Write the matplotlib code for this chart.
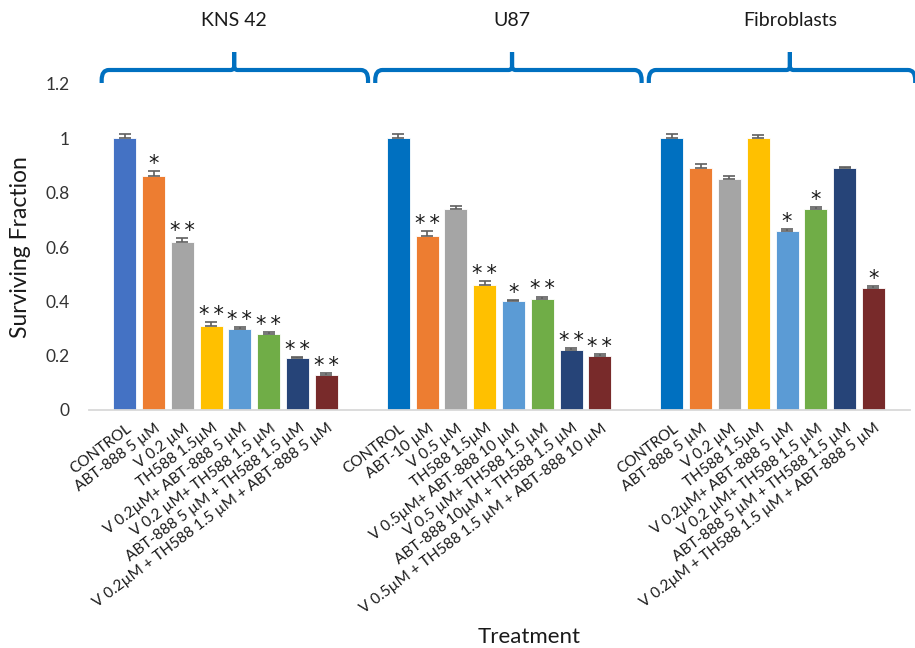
import matplotlib
matplotlib.use('Agg')
import matplotlib.pyplot as plt
from matplotlib.path import Path
from matplotlib.patches import PathPatch
from matplotlib.transforms import blended_transform_factory, ScaledTranslation
import numpy as np

plt.rcParams['font.family'] = ['Lato', 'DejaVu Sans']

# ---------------- data ----------------
groups = ['KNS 42', 'U87', 'Fibroblasts']

kns_labels = ['CONTROL', 'ABT-888 5 µM', 'V 0.2 µM', 'TH588 1.5µM',
              'V 0.2µM+ ABT-888 5 µM', 'V 0.2 µM+ TH588 1.5 µM',
              'ABT-888 5 µM + TH588 1.5 µM',
              'V 0.2µM + TH588 1.5 µM + ABT-888 5 µM']
u87_labels = ['CONTROL', 'ABT-10 µM', 'V 0.5 µM', 'TH588 1.5µM',
              'V 0.5µM+ ABT-888 10 µM', 'V 0.5 µM+ TH588 1.5 µM',
              'ABT-888 10µM + TH588 1.5 µM',
              'V 0.5µM + TH588 1.5 µM + ABT-888 10 µM']
fib_labels = ['CONTROL', 'ABT-888 5 µM', 'V 0.2 µM', 'TH588 1.5µM',
              'V 0.2µM+ ABT-888 5 µM', 'V 0.2 µM+ TH588 1.5 µM',
              'ABT-888 5 µM + TH588 1.5 µM',
              'V 0.2µM + TH588 1.5 µM + ABT-888 5 µM']

kns_values = [1.00, 0.86, 0.62, 0.31, 0.30, 0.28, 0.19, 0.13]
kns_errors = [0.017, 0.018, 0.012, 0.013, 0.004, 0.008, 0.006, 0.005]
kns_signif = ['', '*', '**', '**', '**', '**', '**', '**']

u87_values = [1.00, 0.64, 0.74, 0.46, 0.40, 0.41, 0.22, 0.20]
u87_errors = [0.017, 0.018, 0.011, 0.015, 0.004, 0.007, 0.007, 0.005]
u87_signif = ['', '**', '', '**', '*', '**', '**', '**']

fib_values = [1.00, 0.89, 0.85, 1.00, 0.66, 0.74, 0.89, 0.45]
fib_errors = [0.017, 0.017, 0.011, 0.014, 0.005, 0.007, 0.006, 0.007]
fib_signif = ['', '', '', '', '*', '*', '', '*']

yticks = [0, 0.2, 0.4, 0.6, 0.8, 1.0, 1.2]
ytick_labels = ['0', '0.2', '0.4', '0.6', '0.8', '1', '1.2']

# ---------------- styles ----------------
colors_kns = ['#4472C4', '#ED7D31', '#A5A5A5', '#FFC000', '#5B9BD5',
              '#70AD47', '#264478', '#782A2A']
colors_other = ['#0070C0'] + colors_kns[1:]
group_colors = [colors_kns, colors_other, colors_other]
brace_color = '#0070C0'

group_data = [
    (kns_labels, kns_values, kns_errors, kns_signif),
    (u87_labels, u87_values, u87_errors, u87_signif),
    (fib_labels, fib_values, fib_errors, fib_signif),
]

W, H = 915, 648
fig = plt.figure(figsize=(W / 100, H / 100), dpi=100)
ax = fig.add_axes([89 / W, 1 - 410 / H, 821 / W, 326 / H])

group_step = 9.5
all_x, all_labels = [], []
group_positions = []
for g, (labels, vals, errs, sig) in enumerate(group_data):
    x = np.arange(len(vals)) + g * group_step
    group_positions.append(x)
    ax.bar(x, vals, width=0.8, color=group_colors[g], edgecolor='white',
           linewidth=0.6, zorder=2)
    ax.errorbar(x, vals, yerr=[np.zeros(len(errs)), errs], fmt='none',
                ecolor='#5f5f5f', elinewidth=1.2, capsize=4.3,
                capthick=1.2, zorder=3)
    for xi, v, e, s in zip(x, vals, errs, sig):
        if s:
            ax.annotate('\u2009'.join(s), xy=(xi, v + e), xytext=(0, -2),
                        textcoords='offset points', ha='center',
                        va='bottom', fontsize=15, color='#1a1a1a',
                        family='DejaVu Sans')
    all_x.extend(x)
    all_labels.extend(labels)

ax.set_xlim(-1.24, 27.27)
ax.set_ylim(0, 1.2)
ax.set_yticks(yticks)
ax.set_yticklabels(ytick_labels, fontsize=12.5, color='#333333')
ax.set_xticks(all_x)
ax.set_xticklabels(all_labels, rotation=37, ha='right', va='center',
                   rotation_mode='anchor', fontsize=11, color='#1a1a1a')
ax.tick_params(axis='x', length=0, pad=12)
ax.tick_params(axis='y', length=0, pad=14)
offset = ScaledTranslation(5 / 100, 0, fig.dpi_scale_trans)
for lab in ax.get_xticklabels():
    lab.set_transform(lab.get_transform() + offset)

for side in ['top', 'right', 'left']:
    ax.spines[side].set_visible(False)
ax.spines['bottom'].set_color('#d9d9d9')
ax.spines['bottom'].set_linewidth(1.3)

ax.set_ylabel('Surviving Fraction', fontsize=16.5, color='#1a1a1a')
ax.yaxis.set_label_coords((31 - 89) / 821, 0.5)
ax.set_xlabel('Treatment', fontsize=16, color='#1a1a1a')
ax.xaxis.set_label_coords((529 - 89) / 821, (410 - 637) / 326)
ax.xaxis.label.set_va('center')

# ---------------- braces ----------------
trans = blended_transform_factory(ax.transData, fig.transFigure)
y_h = 1 - 70 / H
y_bot = 1 - 83 / H
y_tip = 1 - 52 / H
rx, ry = 0.25, 10 / H
tx, ty = 0.12, 4 / H
for g, x in enumerate(group_positions):
    xl = x[0] - 0.8
    xr = x[-1] + 1.45
    xt = x.mean() + 0.3 + 0.15 * g
    verts = [
        (xl, y_bot), (xl, y_h - ry), (xl, y_h), (xl + rx, y_h),
        (xt - tx, y_h), (xt, y_h), (xt, y_h + ty), (xt, y_tip),
        (xt, y_tip), (xt, y_h + ty), (xt, y_h), (xt + tx, y_h),
        (xr - rx, y_h), (xr, y_h), (xr, y_h - ry), (xr, y_bot),
    ]
    codes = [Path.MOVETO, Path.LINETO, Path.CURVE3, Path.CURVE3,
             Path.LINETO, Path.CURVE3, Path.CURVE3, Path.LINETO,
             Path.MOVETO, Path.LINETO, Path.CURVE3, Path.CURVE3,
             Path.LINETO, Path.CURVE3, Path.CURVE3, Path.LINETO]
    patch = PathPatch(Path(verts, codes), facecolor='none',
                      edgecolor=brace_color, linewidth=3.0,
                      transform=trans, capstyle='butt', joinstyle='round')
    fig.add_artist(patch)
    t = fig.text(0, 1 - 21 / H, groups[g], transform=trans, ha='center',
                 va='center', fontsize=14, color='#1a1a1a')
    t.set_x(xt)

fig.savefig('out.png', dpi=100)
